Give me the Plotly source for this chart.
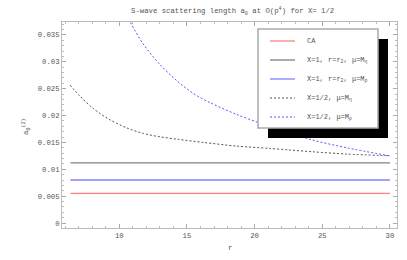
import plotly.graph_objects as go

# ---- data ----
r_line = [6.4, 30.0]
ca = [0.0055, 0.0055]
x1_eta = [0.0112, 0.0112]
x1_rho = [0.0080, 0.0080]

r_half_eta = [6.37, 7.1, 8.08, 9.31, 10.55, 11.77, 13.0, 14.36, 16.2, 18.67, 21.1, 22.5, 24.3, 26.8, 29.95]
half_eta = [0.02565, 0.0236, 0.0213, 0.0192, 0.0177, 0.01667, 0.01604, 0.01556, 0.01500, 0.01431, 0.01388, 0.01360, 0.01325, 0.01283, 0.01251]

r_half_rho = [8.0, 9.5, 10.79, 11.77, 13.0, 14.24, 15.47, 16.7, 18.67, 20.27, 24.2, 26.8, 29.95]
half_rho = [0.056, 0.0445, 0.0375, 0.0333, 0.0295, 0.0265, 0.0241, 0.0224, 0.0202, 0.0187, 0.0155, 0.0140, 0.0125]

ytick_vals = [0, 0.005, 0.01, 0.015, 0.02, 0.025, 0.03, 0.035]
ytick_text = ["0", "0.005", "0.01", "0.015", "0.02", "0.025", "0.03", "0.035"]
xtick_vals = [10, 15, 20, 25, 30]

legend_labels = ["CA", "X=1, r=r<sub>2</sub>, μ=M<sub>η</sub>", "X=1, r=r<sub>2</sub>, μ=M<sub>ρ</sub>",
                 "X=1/2, μ=M<sub>η</sub>", "X=1/2, μ=M<sub>ρ</sub>"]

RED = "#ff8080"
GREY = "#808080"
BLUE = "#8080ff"
DGREY = "#555555"
DBLUE = "#5555ff"

FONT = "Liberation Mono"
TXT = "#555555"

fig = go.Figure()
fig.add_trace(go.Scatter(x=r_line, y=ca, mode="lines", line=dict(color=RED, width=1.3)))
fig.add_trace(go.Scatter(x=r_line, y=x1_eta, mode="lines", line=dict(color=GREY, width=1.3)))
fig.add_trace(go.Scatter(x=r_line, y=x1_rho, mode="lines", line=dict(color=BLUE, width=1.3)))
fig.add_trace(go.Scatter(x=r_half_eta, y=half_eta, mode="lines", line=dict(color=DGREY, width=1, dash="2px,2px", shape="spline", smoothing=0.8)))
fig.add_trace(go.Scatter(x=r_half_rho, y=half_rho, mode="lines", line=dict(color=DBLUE, width=1, dash="2px,2px", shape="spline", smoothing=0.8)))

W, H = 407, 260
L, R, T, B = 62, 10, 22, 32
pw, ph = W - L - R, H - T - B

def px(x):
    return (x - L) / pw

def py(y):
    return (H - B - y) / ph

shapes = []
# shadow
shapes.append(dict(type="rect", xref="paper", yref="paper", x0=px(268), x1=px(388), y0=py(138), y1=py(39),
                   fillcolor="black", line=dict(width=0), layer="above"))
# box
shapes.append(dict(type="rect", xref="paper", yref="paper", x0=px(258), x1=px(378), y0=py(128), y1=py(29),
                   fillcolor="white", line=dict(color="#aaaaaa", width=1.5), layer="above"))
row_y = [41, 60, 79, 98, 117]
sample_styles = [(RED, "solid", 1.3), (GREY, "solid", 1.3), (BLUE, "solid", 1.3), (DGREY, "2px,2px", 1), (DBLUE, "2px,2px", 1)]
annotations = []
for yy, (c, d, w), lab in zip(row_y, sample_styles, legend_labels):
    shapes.append(dict(type="line", xref="paper", yref="paper", x0=px(270), x1=px(295), y0=py(yy), y1=py(yy),
                       line=dict(color=c, dash=d, width=w), layer="above"))
    annotations.append(dict(x=px(305), y=py(yy), xref="paper", yref="paper", text=lab, showarrow=False,
                            xanchor="left", yanchor="middle", font=dict(family=FONT, size=7, color=TXT)))

annotations.append(dict(x=px(232), y=py(11), xref="paper", yref="paper",
                        text="S-wave scattering length a<sub>0</sub> at O(p<sup>4</sup>) for X= 1/2",
                        showarrow=False, xanchor="center", yanchor="middle", font=dict(family=FONT, size=7.3, color=TXT)))
annotations.append(dict(x=px(230), y=py(248), xref="paper", yref="paper", text="r", showarrow=False,
                        xanchor="center", yanchor="middle", font=dict(family=FONT, size=7.3, color=TXT)))
annotations.append(dict(x=px(26), y=py(127), xref="paper", yref="paper", text="a<sub>0</sub><sup>(2)</sup>", showarrow=False,
                        textangle=-90, xanchor="center", yanchor="middle", font=dict(family=FONT, size=7.3, color=TXT)))

fig.update_layout(
    width=W, height=H, margin=dict(l=L, r=R, t=T, b=B, autoexpand=False),
    paper_bgcolor="white", plot_bgcolor="white", showlegend=False,
    shapes=shapes, annotations=annotations,
    font=dict(family=FONT, size=7.3, color=TXT),
)
fig.update_xaxes(range=[5.77, 30.52], tickvals=xtick_vals, ticks="inside", ticklen=4, tickcolor="#aaa",
                 showgrid=False, zeroline=False, showline=True, linecolor="#bbb", linewidth=1, mirror="ticks",
                 minor=dict(dtick=1, tick0=0, ticks="inside", ticklen=2, tickcolor="#bbb"),
                 tickfont=dict(family=FONT, size=7.3, color=TXT), automargin=False)
fig.update_yaxes(range=[-0.00093, 0.0374], tickvals=ytick_vals, ticktext=ytick_text, ticks="inside", ticklen=4, tickcolor="#aaa",
                 showgrid=False, zeroline=False, showline=True, linecolor="#bbb", linewidth=1, mirror="ticks",
                 minor=dict(dtick=0.001, tick0=0, ticks="inside", ticklen=2, tickcolor="#bbb"),
                 tickfont=dict(family=FONT, size=7.3, color=TXT), automargin=False)

fig.write_html("out.html", config={"displayModeBar": False},
               post_script="document.body.style.margin='0';document.body.style.padding='0';")
